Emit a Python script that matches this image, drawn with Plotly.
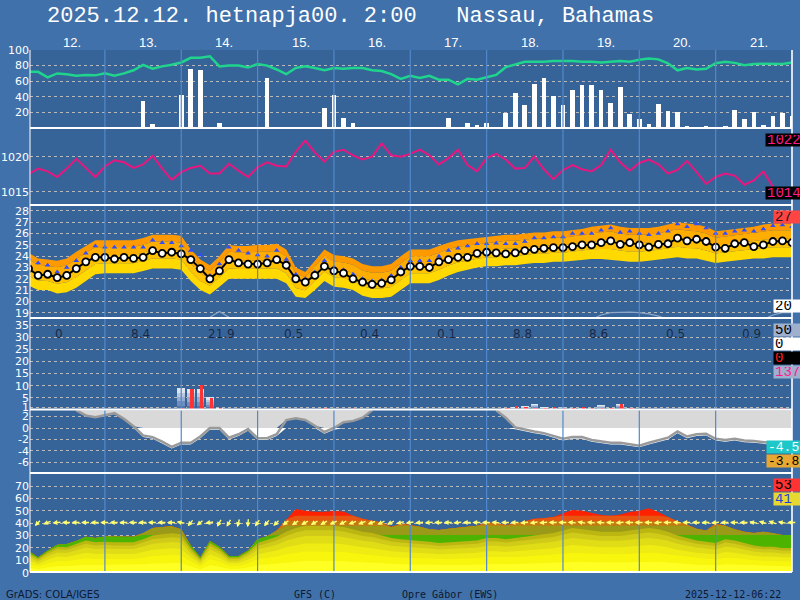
import math
import plotly.graph_objects as go

# ---------------- data (3-hourly, hours from start) ----------------
hours = list(range(0, 241, 3))
day_labels = ["12.", "13.", "14.", "15.", "16.", "17.", "18.", "19.", "20.", "21."]
daily_precip = ["0", "8.4", "21.9", "0.5", "0.4", "0.1", "8.8", "8.6", "0.5", "0.9"]

rel_hum = [72, 72, 65, 70, 69, 67, 68, 67.5, 70, 67, 70, 74, 81, 76, 79, 81, 84, 90, 90, 92,
           79, 80, 80, 77.5, 82, 80, 75, 69, 77, 79, 77, 74, 77, 76, 77, 77, 74, 73, 69,
           63, 67, 64, 67, 62, 62, 56, 63, 62, 65, 68, 78, 82, 85, 85, 85, 86, 86, 86, 85,
           85, 84, 85, 86, 85, 87.5, 89, 88, 83, 74, 77, 75, 76, 83, 85, 83.5, 80.5, 82, 82.5, 82.5,
           82, 84]
cloud_bars = [0, 0, 0, 0, 0, 0, 0, 0, 0, 0, 0, 0, 35, 5, 0, 0, 42, 76, 75, 0,
              7, 0, 0, 0, 0, 64, 0, 0, 0, 0, 0, 26, 42, 13, 6, 0, 0, 0, 0, 0,
              0, 0, 0, 0, 13, 0, 6, 3.5, 7, 0, 19, 45, 29, 57, 64, 41, 29, 49, 55, 55,
              49, 32, 53, 18, 12, 5, 31, 22, 20, 2, 0, 2, 0, 2, 23, 12, 20, 3.5, 16, 19,
              15]
pressure = [1017.5, 1018.3, 1017.9, 1017.1, 1018.3, 1019.7, 1018.4, 1017.1, 1018.6, 1019.5,
            1019.2, 1018.4, 1018.9, 1020.1, 1018.3, 1016.7, 1017.8, 1018.4, 1018.7, 1017.6,
            1017.6, 1019.0, 1018.0, 1017.1, 1018.5, 1019.2, 1018.7, 1018.6, 1020.7, 1022.3,
            1020.6, 1019.3, 1020.7, 1021.0, 1020.2, 1019.6, 1020.0, 1021.9, 1020.2, 1020.0,
            1020.4, 1021.0, 1020.2, 1018.9, 1019.8, 1021.0, 1018.8, 1017.9, 1019.8, 1020.4,
            1019.6, 1018.3, 1018.4, 1020.0, 1018.2, 1016.8, 1018.1, 1018.8, 1018.2, 1017.9,
            1018.8, 1021.0, 1019.2, 1018.0, 1019.1, 1019.6, 1018.9, 1017.6, 1018.1, 1019.4,
            1017.8, 1016.1, 1017.1, 1017.6, 1017.3, 1016.0, 1016.6, 1017.9, 1015.7, None, None]
temperature = [22.9, 22.3, 22.4, 22.1, 22.3, 22.9, 23.5, 23.9, 23.9, 23.75,
               23.9, 23.8, 23.9, 24.5, 24.25, 24.35, 24.2, 23.7, 22.9, 22.0,
               22.7, 23.7, 23.4, 23.3, 23.3, 23.4, 23.7, 23.2, 22.0, 21.7,
               22.3, 23.1, 22.7, 22.5, 22.0, 21.7, 21.5, 21.6, 21.9,
               22.6, 23.1, 23.1, 23.0, 23.5, 23.7, 23.9, 23.9, 24.25, 24.35,
               24.3, 24.2, 24.3, 24.5, 24.6, 24.7, 24.75, 24.75, 24.85, 25.0,
               25.0, 25.2, 25.35, 25.05, 25.2, 25.0, 24.8, 25.05, 25.1, 25.6,
               25.35, 25.5, 25.3, 24.8, 24.7, 25.1, 25.2, 24.85, 25.0, 25.3,
               25.35, 25.2]
temp_max_marks = [23.8, 23.4, 23.2, 22.6, 23.0, 23.6, 24.25, 24.9, 24.8, 24.8,
                  24.8, 24.8, 24.8, 25.4, 25.2, 25.2, 24.9, 24.5, 24.1, 22.3,
                  23.3, 24.8, 24.5, 24.25, 24.1, 24.0, 24.5, 23.7, 22.4, 22.0,
                  22.6, 23.6, 23.0, 22.8, 22.4, 22.0, 21.8, 21.9, 22.3,
                  23.0, 23.6, 23.6, 23.6, 24.0, 24.5, 24.7, 24.9, 25.1, 25.1,
                  25.15, 25.1, 25.1, 25.3, 25.6, 25.6, 25.7, 25.7, 26.0, 26.0,
                  26.0, 26.3, 26.5, 26.1, 26.2, 26.0, 25.9, 26.0, 26.2, 26.85,
                  26.6, 26.85, 26.5, 26.0, 26.0, 26.2, 26.3, 26.2, 26.4, 26.7,
                  26.75, 26.6]
temp_upper = [24.3, 23.8, 23.7, 23.6, 23.8, 24.4, 24.9, 25.4, 25.4, 25.4,
              25.4, 25.4, 25.6, 25.9, 25.9, 25.9, 25.8, 24.6, 23.7, 23.2,
              24.0, 25.0, 24.9, 24.9, 25.0, 25.0, 25.1, 24.6, 23.0, 22.6,
              23.6, 24.6, 24.1, 24.0, 23.8, 23.3, 23.1, 23.1, 23.3, 24.0,
              24.6, 24.6, 24.6, 24.9, 25.2, 25.4, 25.5, 25.6, 25.7, 25.8,
              25.9, 25.9, 26.0, 26.1, 26.1, 26.2, 26.2, 26.3, 26.4, 26.6,
              26.7, 26.8, 26.6, 26.5, 26.5, 26.5, 26.6, 26.8, 27.0, 26.9,
              26.8, 26.6, 26.2, 26.3, 26.4, 26.5, 26.6, 26.8, 26.9, 26.9, 26.9]
temp_lower = [21.4, 21.0, 21.0, 20.7, 20.8, 21.2, 21.8, 22.4, 22.5, 22.5,
              22.5, 22.5, 22.7, 22.9, 22.9, 22.9, 22.8, 21.8, 21.0, 20.6,
              21.3, 22.0, 22.0, 22.0, 22.0, 22.0, 22.0, 21.6, 20.4, 20.3,
              21.0, 21.8, 21.3, 21.2, 21.0, 20.5, 20.3, 20.3, 20.4, 21.0,
              21.6, 21.6, 21.6, 21.9, 22.3, 22.6, 22.8, 23.0, 23.1, 23.1,
              23.2, 23.2, 23.3, 23.4, 23.4, 23.5, 23.5, 23.6, 23.7, 23.75,
              23.75, 23.7, 23.6, 23.5, 23.5, 23.6, 23.7, 23.8, 23.9, 23.8,
              23.8, 23.6, 23.4, 23.5, 23.6, 23.7, 23.8, 23.8, 23.9, 23.9, 23.9]
temp_low_line = [None] * 19 + [18.6, 19.1, 18.6] + [None] * 37 + \
                [18.4, 18.8, 19.0, 19.05, 19.05, 19.0, 18.9, 18.7, 18.4] + [None] * 9 + \
                [18.4, 18.8, 19.0, 19.0]
precip_total = [0] * 16 + [8.9, 8.6, 8.6, 5.4, 0.5] + [0] * 29 + \
               [0.8, 1.2, 1.5, 2.6, 1.2, 1.0, 1.3, 1.0, 1.0, 1.0, 2.0, 0.8, 2.6, 1.0] + [0] * 16 + [0.3]
precip_conv = [0] * 12 + [0.5, 0, 0, 0, 1.0, 8.6, 10.4, 5.0, 0.7] + [0] * 10 + [0.7, 0, 0, 0.7] + \
              [0] * 15 + [0.5, 1.5, 1.3, 1.0, 0.8, 1.2, 1.0, 0.8, 1.2, 0.5, 1.0, 0.7, 2.6, 0.6] + \
              [0] * 15 + [0.5, 0]
level_curve = [None] * 5 + [3.1, 2.2, 1.9, 2.3, 2.6, 1.6, 0.3, -1.3, -1.6, -2.4, -3.3, -2.6, -2.6, -1.5,
                            0, 0, -1.7, -1.1, -0.2, -1.8, -1.8, -1.1, 1.4, 1.7, 1.4, 0.4, -0.7, 0, 1.0,
                            1.25, 1.8, 3.1] + [None] * 12 + \
              [3.1, 1.8, 0.1, -0.3, -0.6, -0.9, -1.4, -1.9, -1.6, -1.6, -2.1, -2.4, -2.6, -2.6, -2.9,
               -3.1, -2.6, -2.2, -1.7, -0.6, -1.5, -1.1, -1.0, -1.9, -2.1, -1.9, -2.2, -2.3, -2.5,
               -2.7, -2.9, -3.0]
wind_gust = [17.5, 12.5, 18, 22.5, 23.2, 25.5, 29, 28, 29.2, 29, 29, 29, 32, 36, 37, 37.5, 35, 22, 12.4, 25.5,
             21, 13.5, 13.5, 18, 27, 29.5, 34, 43, 51.5, 50, 49.3, 49.3, 49.8, 49.5, 46, 43.5, 42, 40.5, 37,
             39.5, 38.5, 37.2, 35, 34.5, 35.5, 36.5, 37, 38, 40.5, 40, 38.5, 39.5, 41.5, 43.5, 44, 45, 48,
             50.6, 50, 48, 46.5, 46, 47, 49, 50, 52, 49, 45, 41.5, 39, 35.5, 34, 39.5, 38, 35, 33, 32, 33,
             32, 30.5, 30.4]
wind_speed = [16, 11.6, 17, 21, 20.5, 23.5, 26, 24.5, 25, 24.5, 24.2, 24.5, 27, 30, 31, 31.8, 31, 20, 11.5, 24,
              19.5, 12.5, 12.5, 17, 24, 26.5, 29, 33, 36, 38, 38, 38, 38, 37, 35, 33, 32, 30, 28,
              27, 26.5, 26, 25, 24, 24.5, 25, 25, 26, 28, 28, 27, 28, 29, 30, 31, 32, 34, 36, 35,
              34, 33, 33, 33, 34, 35, 36, 35, 33, 30, 28, 26, 25, 24, 27, 26, 24, 22, 21, 21, 20, 20]
wind_dir = [40, 45, 70, 85] + [90] * 12 + [100, 40, 50, 80, 30, 30, 15, 5, 35, 40, 45, 50] + \
           [55, 60, 60, 60, 65, 65, 70, 70, 70, 65, 65] + \
           [75, 80, 85, 85, 90, 90, 85, 90, 90, 90, 95, 90, 90, 85, 80, 85, 90, 90, 95, 100,
            95, 95, 90, 85, 90, 90, 90, 85, 90, 95, 90, 90, 90, 85, 90, 90, 90, 100, 105, 110, 100, 90]

# ---------------- geometry ----------------
W, H = 800, 600
XL, XR = 30, 792
XRANGE = [0.45, 240.0]
PX_PER_H = (XR - XL) / (XRANGE[1] - XRANGE[0])


def py(p):
    return 1 - p / H


def pxp(p):
    return p / W


panels = [
    dict(top=50, bot=128, rng=[0, 100], ticks=[20, 40, 60, 80, 100]),
    dict(top=128, bot=205, rng=[1013.1, 1024.1], ticks=[1015, 1020]),
    dict(top=205, bot=318, rng=[18.53, 28.53], ticks=list(range(19, 29))),
    dict(top=318, bot=410, rng=[0.0, 37.9], ticks=[1, 5, 10, 15, 20, 25, 30, 35]),
    dict(top=410, bot=473, rng=[-7.9, 3.16], ticks=[-6, -4, -2, 0, 2]),
    dict(top=473, bot=573, rng=[-0.24, 80.5], ticks=[0, 10, 20, 30, 40, 50, 60, 70]),
]

PAPER = "#4171aa"
PLOT = "#376498"
GRID = "#b9b9b9"

fig = go.Figure()
layout = dict(width=W, height=H, autosize=False, margin=dict(l=0, r=0, t=0, b=0, pad=0),
              paper_bgcolor=PAPER, plot_bgcolor=PLOT, showlegend=False,
              barmode="overlay", bargap=0)

for i, p in enumerate(panels, start=1):
    xk = "xaxis" if i == 1 else f"xaxis{i}"
    yk = "yaxis" if i == 1 else f"yaxis{i}"
    layout[xk] = dict(domain=[pxp(XL), pxp(XR)], range=XRANGE, showticklabels=False,
                      showgrid=False, zeroline=False, showline=False, ticks="", automargin=False,
                      anchor="y" if i == 1 else f"y{i}", fixedrange=True)
    layout[yk] = dict(domain=[py(p["bot"]), py(p["top"])], range=p["rng"],
                      tickmode="array", tickvals=p["ticks"],
                      ticktext=[str(t) for t in p["ticks"]],
                      tickfont=dict(color="white", size=11, family="DejaVu Sans"),
                      showgrid=True, gridcolor=GRID, griddash="dot", gridwidth=1,
                      zeroline=False, showline=False, ticks="", automargin=False,
                      anchor="x" if i == 1 else f"x{i}", fixedrange=True)


def ax(i):
    return dict(xaxis="x" if i == 1 else f"x{i}", yaxis="y" if i == 1 else f"y{i}")


def line_trace(i, y, color, width, **kw):
    return go.Scatter(x=hours, y=y, mode="lines", line=dict(color=color, width=width),
                      hoverinfo="skip", **ax(i), **kw)


# ---- panel 1: bars + humidity ----
fig.add_trace(go.Bar(x=hours, y=cloud_bars, width=1.45, marker=dict(color="white", line=dict(width=0)),
                     hoverinfo="skip", **ax(1)))
fig.add_trace(line_trace(1, rel_hum, "#1fd48c", 2.5))

# ---- panel 2: pressure ----
fig.add_trace(line_trace(2, pressure, "#e8177f", 2))

# ---- panel 3: temperature ----
fracs = [0.3, 0.55, 0.8, 1.0]
band_cols = ["#ffd900", "#ffc300", "#ffad00", "#ff9900"]
fig.add_trace(go.Scatter(x=hours, y=temp_lower, mode="lines", line=dict(width=0, color=PLOT),
                         hoverinfo="skip", **ax(3)))
for f, c in zip(fracs, band_cols):
    yy = [lo + (up - lo) * f for lo, up in zip(temp_lower, temp_upper)]
    fig.add_trace(go.Scatter(x=hours, y=yy, mode="lines", line=dict(width=0, color=c),
                             fill="tonexty", fillcolor=c, hoverinfo="skip", **ax(3)))
fig.add_trace(line_trace(3, temp_low_line, "#8fa6c8", 1.2))
fig.add_trace(go.Scatter(x=hours, y=temp_max_marks, mode="markers",
                         marker=dict(symbol="triangle-up", size=5, color="#2f4dff"),
                         hoverinfo="skip", **ax(3)))
fig.add_trace(go.Scatter(x=hours, y=temperature, mode="lines+markers",
                         line=dict(color="black", width=2),
                         marker=dict(symbol="circle", size=7, color="white",
                                     line=dict(color="black", width=1.8)),
                         hoverinfo="skip", **ax(3)))

# ---- panel 4: precipitation ----
grad = [(1.0, "#dde5f0"), (0.8, "#b9c9df"), (0.6, "#94acd0"), (0.4, "#6f8ebe"), (0.2, "#5076ad")]
for f, c in grad:
    fig.add_trace(go.Bar(x=hours, y=[v * f for v in precip_total], width=2.4,
                         marker=dict(color=c, line=dict(width=0)), hoverinfo="skip", **ax(4)))
fig.add_trace(go.Bar(x=[h + 0.4 for h in hours], y=precip_conv, width=1.0,
                     marker=dict(color="#ff3333", line=dict(width=0)), hoverinfo="skip", **ax(4)))

# ---- panel 5: level curve with fills ----
TOP5 = 3.1
filled = [TOP5 if v is None else v for v in level_curve]
fig.add_trace(go.Scatter(x=hours, y=[TOP5] * len(hours), mode="lines", line=dict(width=0, color=PLOT),
                         hoverinfo="skip", **ax(5)))
fig.add_trace(go.Scatter(x=hours, y=[max(v, 0) for v in filled], mode="lines",
                         line=dict(width=0, color="#d9d9d9"), fill="tonexty", fillcolor="#d9d9d9",
                         hoverinfo="skip", **ax(5)))
fig.add_trace(go.Scatter(x=hours, y=[0] * len(hours), mode="lines", line=dict(width=0, color="#d9d9d9"),
                         hoverinfo="skip", **ax(5)))
fig.add_trace(go.Scatter(x=hours, y=[0 if v is None else min(v - 0.3, 0) for v in level_curve],
                         mode="lines", line=dict(width=0, color="white"), fill="tonexty",
                         fillcolor="white", hoverinfo="skip", **ax(5)))
fig.add_trace(line_trace(5, level_curve, "#9a9a9a", 2.5))

# ---- panel 6: wind ----
gust_bands = [(80, "#ff2200"), (46, "#e85510"), (42, "#c47a10"), (38, "#9a9a18"), (30.5, "#4cb400")]
for top, c in gust_bands:
    fig.add_trace(go.Scatter(x=hours, y=[min(g, top) for g in wind_gust], mode="lines",
                             line=dict(width=0, color=c), fill="tozeroy", fillcolor=c,
                             hoverinfo="skip", **ax(6)))
speed_bands = [(1.0, "#bcb612"), (0.9, "#d0ca18"), (0.78, "#e0dc16"), (0.62, "#eeec12"),
               (0.45, "#f8f60c"), (0.25, "#ffff24")]
for f, c in speed_bands:
    fig.add_trace(go.Scatter(x=hours, y=[s * f for s in wind_speed], mode="lines",
                             line=dict(width=0, color=c), fill="tozeroy", fillcolor=c,
                             hoverinfo="skip", **ax(6)))

# ---------------- annotations ----------------
ann = []
ann.append(dict(text="2025.12.12.\u00a0hetnapja00.\u00a02:00\u00a0\u00a0\u00a0Nassau,\u00a0Bahamas",
                x=pxp(45), y=py(17), xref="paper", yref="paper", xanchor="left", yanchor="middle",
                showarrow=False, font=dict(family="Liberation Mono", size=22, color="white")))
for k, lab in enumerate(day_labels):
    ann.append(dict(text=lab, x=24 * k + 13.5, y=py(42), xref="x", yref="paper",
                    xanchor="center", yanchor="middle", showarrow=False,
                    font=dict(family="Liberation Sans", size=13, color="white")))
for k, lab in enumerate(daily_precip):
    ann.append(dict(text=lab, x=24 * k + 7.7, y=py(334), xref="x4", yref="paper",
                    xanchor="left", yanchor="middle", showarrow=False,
                    font=dict(family="DejaVu Sans", size=12, color="#1b2944")))

# wind arrows
L = 9.5
PX_PER_U6 = (573 - 473) / (80.5 + 0.24)
for h, d in zip(hours, wind_dir):
    s, c = math.sin(math.radians(d)), math.cos(math.radians(d))
    tipx = h + (-s * L / 2) / PX_PER_H
    tipy = 40.5 - (c * L / 2) / PX_PER_U6
    ann.append(dict(x=tipx, y=tipy, xref="x6", yref="y6", ax=L * s, ay=-L * c,
                    axref="pixel", ayref="pixel", text="", showarrow=True,
                    arrowhead=2, arrowsize=0.7, arrowwidth=1.4, arrowcolor="#ffff70"))

boxes = [("1022", 765, 134, 146, "black", "#ff1a8c", 14),
         ("1014", 765, 187, 199, "black", "#ff1a8c", 14),
         ("27", 773, 211, 223, "#ff4444", "#1a1a1a", 14),
         ("20", 773, 300, 312, "white", "black", 14),
         ("50", 773, 324, 336, "#9fb0cf", "black", 14),
         ("0", 773, 338, 350, "white", "black", 14),
         ("0", 773, 352, 364, "black", "#ff2020", 14),
         ("137", 773, 366, 378, "#9fb0cf", "#ff1a8c", 14),
         ("-4.5", 766, 441, 453, "#1ec8c8", "white", 13),
         ("-3.8", 766, 455, 467, "#e6a832", "black", 13),
         ("53", 773, 479, 491, "#ff3333", "black", 14),
         ("41", 773, 493, 505, "#e6d830", "#2040e0", 14)]
for txt, x0, y0, y1, bg, fc, fs in boxes:
    ann.append(dict(text=txt, x=pxp(x0), y=py((y0 + y1) / 2), xref="paper", yref="paper",
                    xanchor="left", yanchor="middle", showarrow=False, align="left",
                    width=W - x0 - 2, height=y1 - y0 - 2, bgcolor=bg, borderpad=1,
                    font=dict(family="Liberation Mono", size=fs, color=fc)))

for txt, x0, fam in [("GrADS: COLA/IGES", 4, "DejaVu Sans"), ("GFS (C)", 292, "DejaVu Sans Mono"),
                     ("Opre Gábor (EWS)", 400, "DejaVu Sans Mono"),
                     ("2025-12-12-06:22", 683, "DejaVu Sans Mono")]:
    ann.append(dict(text=txt, x=pxp(x0), y=py(594), xref="paper", yref="paper",
                    xanchor="left", yanchor="middle", showarrow=False,
                    font=dict(family=fam, size=10, color="#0d1830")))
layout["annotations"] = ann

# ---------------- shapes ----------------
shapes = []
for k in range(1, 10):
    shapes.append(dict(type="line", xref="x", yref="paper", x0=24 * k, x1=24 * k,
                       y0=py(572), y1=py(50), line=dict(color="#5288cc", width=1.2), layer="above"))
for yy in [128, 205, 318, 409.5, 473, 572]:
    shapes.append(dict(type="line", xref="paper", yref="paper", x0=pxp(XL), x1=pxp(XR),
                       y0=py(yy), y1=py(yy), line=dict(color="white", width=2), layer="above"))
for xx, wd in [(XL, 1), (XR, 1.6)]:
    shapes.append(dict(type="line", xref="paper", yref="paper", x0=pxp(xx), x1=pxp(xx),
                       y0=py(572), y1=py(50), line=dict(color="white", width=wd), layer="above"))
layout["shapes"] = shapes

fig.update_layout(**layout)
fig.write_html("out.html", config={"displayModeBar": False},
               post_script="document.body.style.margin='0px';document.body.style.padding='0px';"
                           "document.body.style.overflow='hidden';")
